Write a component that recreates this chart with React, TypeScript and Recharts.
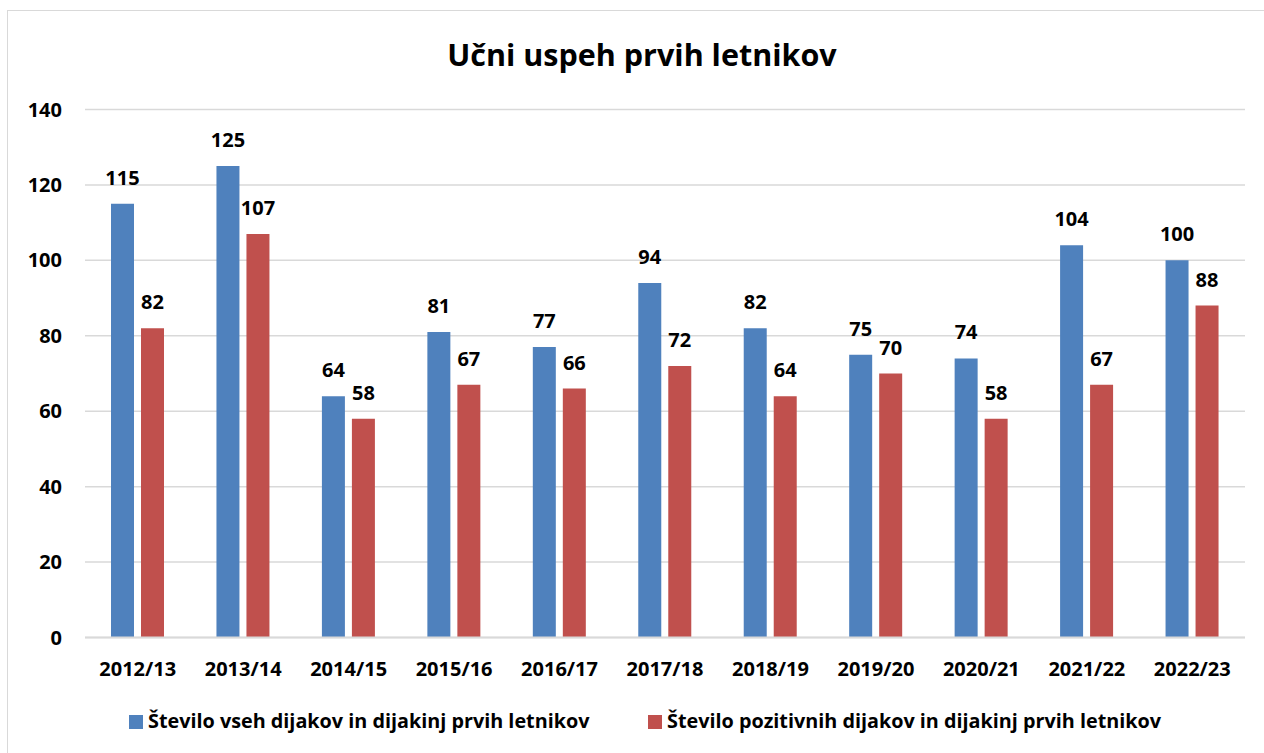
import React from "react";
import { BarChart, Bar, XAxis, YAxis, CartesianGrid, LabelList } from "recharts";

const categories = ["2012/13", "2013/14", "2014/15", "2015/16", "2016/17", "2017/18", "2018/19", "2019/20", "2020/21", "2021/22", "2022/23"];
const vsi = [115, 125, 64, 81, 77, 94, 82, 75, 74, 104, 100];
const pozitivni = [82, 107, 58, 67, 66, 72, 64, 70, 58, 67, 88];
const yTicks = [0, 20, 40, 60, 80, 100, 120, 140];
const seriesNames = ["Število vseh dijakov in dijakinj prvih letnikov", "Število pozitivnih dijakov in dijakinj prvih letnikov"];
const titleText = "Učni uspeh prvih letnikov";

const data = categories.map((c, i) => ({ cat: c, vsi: vsi[i], pozitivni: pozitivni[i] }));

const FONT = "'Open Sans', 'Noto Sans', sans-serif";
const BLUE = "#4F81BD";
const RED = "#C0504D";

export default function App() {
  return (
    <div style={{ position: "absolute", left: 0, top: 0, width: 1264, height: 753, background: "#fff", overflow: "hidden", fontFamily: FONT }}>
      <div style={{ position: "absolute", left: 7, top: 10, width: 1300, height: 800, border: "1.5px solid #d9d9d9", boxSizing: "border-box" }} />
      <div style={{ position: "absolute", left: 0, top: 34, width: 1284, textAlign: "center", fontSize: 30.5, fontWeight: 700, color: "#000", lineHeight: "40px" }}>
        {titleText}
      </div>
      <div style={{ position: "absolute", left: 0, top: 0 }}>
        <BarChart width={1264} height={753} data={data} margin={{ top: 109.5, right: 19, left: 0, bottom: 85.5 }} barSize={23} barGap={7}>
          <CartesianGrid vertical={false} stroke="#d9d9d9" strokeWidth={1.5} />
          <XAxis dataKey="cat" height={30} axisLine={{ stroke: "#d9d9d9", strokeWidth: 2 }} tickLine={false} tickSize={0} tickMargin={24}
            tick={{ fill: "#000", fontSize: 20, fontWeight: 700, fontFamily: FONT }} interval={0} />
          <YAxis width={85} domain={[0, 140]} ticks={yTicks} axisLine={false} tickLine={false} tickSize={0} tickMargin={23}
            tick={{ fill: "#000", fontSize: 20, fontWeight: 700, fontFamily: FONT }} />
          <Bar dataKey="vsi" fill={BLUE} isAnimationActive={false}>
            <LabelList dataKey="vsi" position="top" offset={19} fill="#000" fontSize={20} fontWeight={700} fontFamily={FONT} />
          </Bar>
          <Bar dataKey="pozitivni" fill={RED} isAnimationActive={false}>
            <LabelList dataKey="pozitivni" position="top" offset={19} fill="#000" fontSize={20} fontWeight={700} fontFamily={FONT} />
          </Bar>
        </BarChart>
      </div>
      <div style={{ position: "absolute", left: 129, top: 715, width: 14, height: 14, background: BLUE }} />
      <div style={{ position: "absolute", left: 148, top: 707, fontSize: 19.8, fontWeight: 700, lineHeight: "28px", whiteSpace: "nowrap" }}>{seriesNames[0]}</div>
      <div style={{ position: "absolute", left: 648, top: 715, width: 14, height: 14, background: RED }} />
      <div style={{ position: "absolute", left: 667, top: 707, fontSize: 19.8, fontWeight: 700, lineHeight: "28px", whiteSpace: "nowrap" }}>{seriesNames[1]}</div>
    </div>
  );
}
